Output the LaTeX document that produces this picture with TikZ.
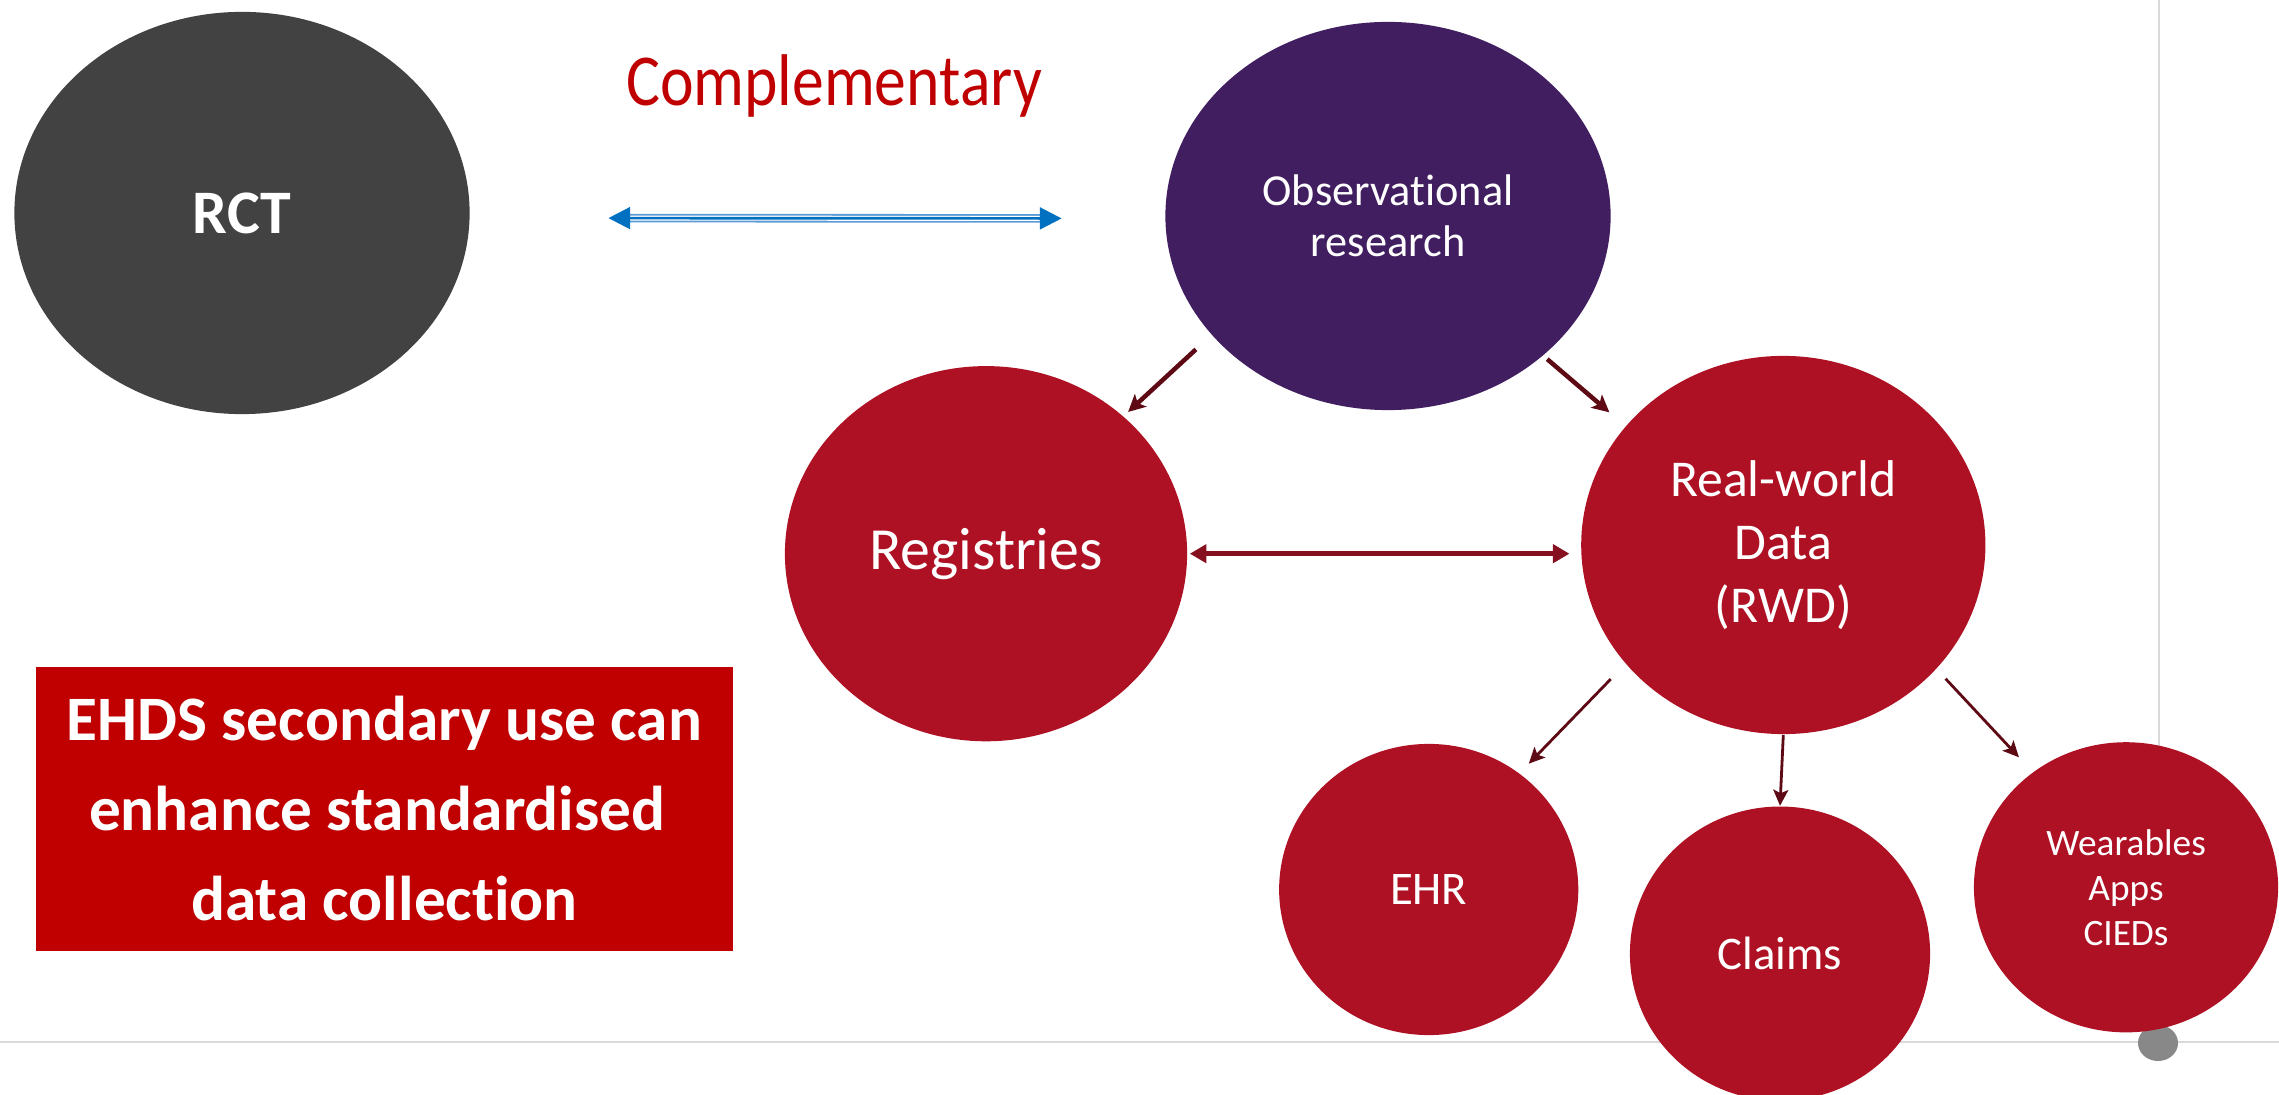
\documentclass[tikz,border=0pt]{standalone}
\usepackage{fontspec}
\setmainfont{Carlito}[Ligatures=NoCommon]
\usepackage{graphicx}
\usetikzlibrary{shapes.geometric, arrows.meta}

\definecolor{rctgrey}{RGB}{66,66,66}
\definecolor{obspurple}{RGB}{64,30,95}
\definecolor{datared}{RGB}{174,17,35}
\definecolor{boxred}{RGB}{192,0,0}
\definecolor{linkred}{RGB}{134,16,32}
\definecolor{arrowred}{RGB}{94,10,20}
\definecolor{compblue}{RGB}{0,112,192}
\definecolor{complight}{RGB}{91,155,213}
\definecolor{framegrey}{RGB}{217,217,217}
\definecolor{handlegrey}{RGB}{136,136,136}

\begin{document}
\begin{tikzpicture}[x=0.01cm, y=-0.01cm,
    bubble/.style={ellipse, fill=datared, text=white, inner sep=0pt, align=center},
    splitarrow/.style={draw=arrowred, line width=0.045cm, -{Stealth[length=0.17cm, width=0.17cm, inset=0.04cm]}},
    sourcearrow/.style={draw=arrowred, line width=0.028cm, -{Stealth[length=0.16cm, width=0.15cm, inset=0.035cm]}},
    linkarrow/.style={draw=linkred, line width=0.055cm, {Triangle[length=0.165cm, width=0.18cm]}-{Triangle[length=0.165cm, width=0.18cm]}}]

    \clip (0,0) rectangle (2279,1095);

    % Slide frame lines and handle
    \draw[framegrey, line width=0.027cm] (0,1042) -- (2279,1042);
    \draw[framegrey, line width=0.02cm] (2159,0) -- (2159,1042);
    \fill[handlegrey] (2158,1043) ellipse [x radius=0.2cm, y radius=0.18cm];

    % Study types
    \node[bubble, fill=rctgrey, minimum width=4.55cm, minimum height=4.02cm,
        font=\fontsize{17.6pt}{21pt}\selectfont\bfseries] (rct) at (242,213) {RCT};
    \node[bubble, fill=obspurple, minimum width=4.45cm, minimum height=3.88cm,
        font=\fontsize{12.6pt}{14.5pt}\selectfont] (obs) at (1388,216) {Observational\\research};
    \node[anchor=base, text=boxred, font=\fontsize{18.1pt}{22pt}\selectfont] (comp) at (834,105.7)
        {\scalebox{1}[1.15]{Complementary}};

    % Data sources
    \node[bubble, minimum width=4.02cm, minimum height=3.75cm,
        font=\fontsize{17pt}{20pt}\selectfont] (reg) at (986,553.7) {Registries};
    \node[bubble, minimum width=4.04cm, minimum height=3.78cm,
        font=\fontsize{14.7pt}{17.9pt}\selectfont] (rwd) at (1783.3,545) {Real-world\\Data\\(RWD)};
    \node[bubble, minimum width=2.99cm, minimum height=2.91cm,
        font=\fontsize{13.3pt}{16pt}\selectfont] (ehr) at (1428.7,889.5) {EHR};
    \node[bubble, minimum width=3.0cm, minimum height=2.94cm,
        font=\fontsize{13.3pt}{16pt}\selectfont] (claims) at (1780,953.6) {Claims};
    \node[bubble, minimum width=3.04cm, minimum height=2.9cm,
        font=\fontsize{10.6pt}{12.8pt}\selectfont] (wear) at (2126,887.3) {Wearables\\Apps\\CIEDs};

    % EHDS message
    \node[fill=boxred, text=white, align=center, inner sep=0pt, minimum width=6.96cm, minimum height=2.835cm,
        font=\fontsize{18pt}{25.6pt}\selectfont\bfseries] (ehds) at (384.4,808.8)
        {EHDS secondary use can\\enhance standardised\ \null\\data collection};

    % Complementary link
    \draw[complight, line width=0.018cm, double=white, double distance=0.05cm,
        shorten <=1.58cm, shorten >=1.23cm] ([yshift=-0.05cm]rct.east) -- ([yshift=-0.025cm]obs.west);
    \draw[compblue, line width=0.027cm, {Triangle[length=0.217cm, width=0.217cm]}-{Triangle[length=0.217cm, width=0.217cm]},
        shorten <=1.38cm, shorten >=1.03cm] ([yshift=-0.05cm]rct.east) -- ([yshift=-0.025cm]obs.west);

    % Observational research splits
    \draw[splitarrow, shorten <=0.21cm, shorten >=0.06cm] (obs.214) -- (reg.45);
    \draw[splitarrow, shorten <=0.05cm, shorten >=0.21cm] (obs.318) -- (rwd.143);
    \draw[linkarrow, shorten <=0.02cm, shorten >=0.11cm] (reg.east) -- (reg.east -| rwd.west);

    % RWD sources
    \draw[sourcearrow, shorten <=0.21cm, shorten >=0.13cm] (rwd.217) -- (ehr.52);
    \draw[sourcearrow] (rwd.south) -- (claims.north);
    \draw[sourcearrow, shorten <=0.13cm, shorten >=0.2cm] (rwd.321) -- (wear.129);
\end{tikzpicture}
\end{document}
